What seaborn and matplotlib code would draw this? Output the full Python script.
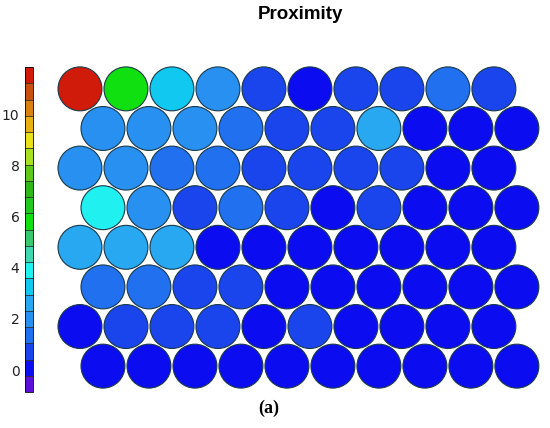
import numpy as np
import pandas as pd
import seaborn as sns
import matplotlib
matplotlib.use("Agg")
import matplotlib.pyplot as plt
from matplotlib.colors import ListedColormap, BoundaryNorm
from matplotlib.cm import ScalarMappable

# SOM proximity values, 8 rows x 10 columns (top row first)
row0 = [11.5, 5.8, 3.2, 2.0, 0.7, 0.0, 0.7, 0.6, 1.6, 1.0]
row1 = [2.0, 2.0, 2.0, 1.5, 0.6, 0.8, 2.6, 0.0, 0.0, 0.0]
row2 = [1.8, 1.8, 1.4, 1.4, 0.6, 0.8, 0.8, 0.6, 0.0, 0.0]
row3 = [3.9, 2.0, 0.7, 1.5, 0.6, 0.0, 0.7, 0.0, 0.0, 0.0]
row4 = [2.8, 2.4, 2.6, 0.0, 0.0, 0.0, 0.0, 0.0, 0.0, 0.0]
row5 = [1.5, 1.5, 0.9, 0.9, 0.3, 0.0, 0.0, 0.0, 0.0, 0.0]
row6 = [0.1, 0.8, 0.8, 1.0, 0.4, 0.8, 0.0, 0.0, 0.0, 0.0]
row7 = [0.2, 0.2, 0.2, 0.3, 0.2, 0.0, 0.0, 0.0, 0.0, 0.0]
rows = [row0, row1, row2, row3, row4, row5, row6, row7]

cbar_ticks = [0, 2, 4, 6, 8, 10]
vmin, vmax = -0.86, 11.84

band_colors = ['#5a10d8', '#0c0cf0', '#1a44ec', '#2070f0', '#2890f0',
               '#28a8f0', '#10c8f0', '#20f0f0', '#40d8b0', '#38c870',
               '#10e010', '#20c820', '#30b818', '#60c818', '#a8e020',
               '#e8e018', '#e8b010', '#d88010', '#c85010', '#d01a0a']
cmap = ListedColormap(band_colors)
norm = BoundaryNorm(np.linspace(vmin, vmax, len(band_colors) + 1), cmap.N)

# hex grid positions: odd rows shifted half a cell
h = np.sqrt(3) / 2
recs = []
for r, vals in enumerate(rows):
    for c, v in enumerate(vals):
        recs.append({'x': c + 0.5 * (r % 2), 'y': -r * h, 'val': v})
df = pd.DataFrame(recs)

fig = plt.figure(figsize=(5.5, 4.28), dpi=100)
ax = fig.add_axes([0.1036, 0.0911, 0.878, 0.7547])
sns.scatterplot(data=df, x='x', y='y', hue='val', palette=cmap, hue_norm=norm,
                s=1000, edgecolor='#1a3a4a', linewidth=0.8, legend=False, ax=ax)
ax.set_xlim(-0.5, 10.0)
ax.set_ylim(-7 * h - 0.5, 0.5)
ax.set_axis_off()

# colorbar on the left
cax = fig.add_axes([0.0455, 0.0841, 0.0145, 0.759])
cb = fig.colorbar(ScalarMappable(norm=norm, cmap=cmap), cax=cax, drawedges=True)
cb.set_ticks(cbar_ticks)
cb.minorticks_off()
cb.dividers.set_color('#303030')
cb.dividers.set_linewidth(0.6)
cb.outline.set_linewidth(0.6)
cax.yaxis.set_ticks_position('left')
cax.tick_params(which='both', length=0, labelsize=10, pad=4, labelcolor='#222222')

fig.text(0.546, 0.967, 'Proximity', ha='center', va='center',
         fontsize=13.5, fontweight='bold', family='Liberation Sans')
fig.text(0.489, 0.045, '(a)', ha='center', va='center',
         fontsize=13, fontweight='bold', family='Liberation Serif')

fig.savefig('out.png', dpi=100)
